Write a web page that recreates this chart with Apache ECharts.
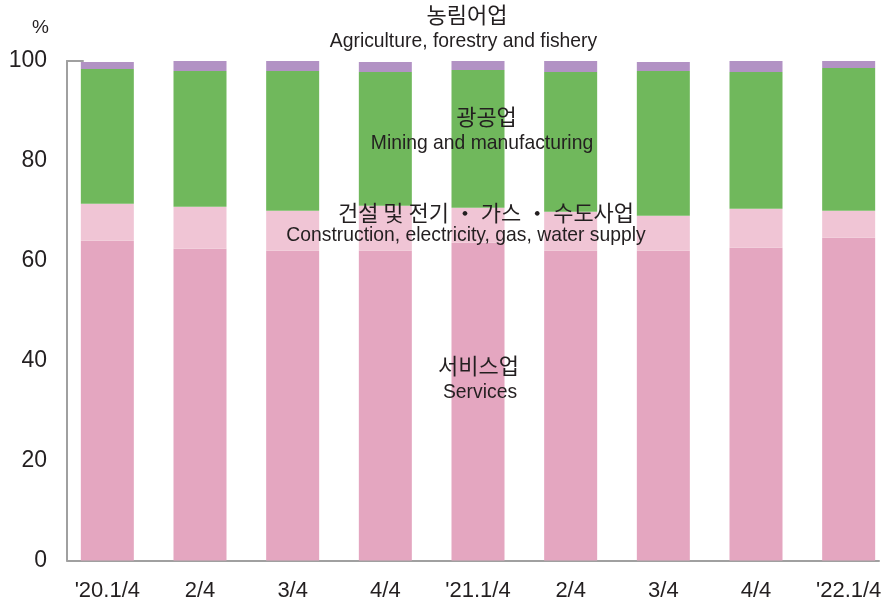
<!DOCTYPE html>
<html>
<head>
<meta charset="utf-8">
<script src="https://cdn.jsdelivr.net/npm/echarts@6/dist/echarts.min.js"></script>
<style>
html,body{margin:0;padding:0;background:#fff;}
#chart{width:895px;height:608px;}
</style>
</head>
<body>
<div id="chart"></div>
<script>
const categories = ["'20.1/4", "2/4", "3/4", "4/4", "'21.1/4", "2/4", "3/4", "4/4", "'22.1/4"];
const services = [64.0, 62.4, 62.0, 62.0, 63.6, 62.0, 62.0, 62.6, 64.6];
const construction = [7.4, 8.4, 8.0, 9.0, 7.0, 7.8, 7.0, 7.8, 5.4];
const mining = [27.0, 27.2, 28.0, 26.8, 27.6, 28.0, 29.0, 27.4, 28.6];
const agriculture = [1.4, 2.0, 2.0, 2.0, 1.8, 2.2, 1.8, 2.2, 1.4];
const yTicks = [0, 20, 40, 60, 80, 100];

const seriesNames = ['서비스업', '건설 및 전기・가스・수도사업', '광공업', '농림어업'];
const seriesData = [services, construction, mining, agriculture];
const colors = ['#E4A6C0', '#F0C5D5', '#70B85C', '#B292C4'];

const latin = "'Liberation Sans', Arial, sans-serif";
const kor = "'Noto Sans CJK KR', sans-serif";
const txt = '#231F20';

const chart = echarts.init(document.getElementById('chart'));

function label(x, y, text, font, size, sx) {
  return {
    type: 'text', x: x, y: y, z: 100, scaleX: sx || 1,
    style: { text: text, fill: txt, fontFamily: font, fontSize: size, align: 'center', verticalAlign: 'middle' }
  };
}

chart.setOption({
  animation: false,
  backgroundColor: '#fff',
  grid: [
    { left: 61, width: 837, top: 61, bottom: 47.5 },
    { left: 67, right: 16, top: 61, bottom: 47.5 },
    { left: 67, width: 16, top: 61, bottom: 47.5 }
  ],
  xAxis: [
    {
      type: 'category', gridIndex: 0, data: categories,
      axisLine: { show: false }, axisTick: { show: false },
      axisLabel: { color: txt, fontFamily: latin, fontSize: 22, margin: 19 }
    },
    {
      type: 'value', gridIndex: 1, min: 0, max: 1,
      axisLine: { show: true, onZero: false, lineStyle: { color: '#A0A0A0', width: 2 } },
      axisTick: { show: false }, axisLabel: { show: false }, splitLine: { show: false }
    },
    {
      type: 'value', gridIndex: 2, position: 'top', min: 0, max: 1,
      axisLine: { show: true, onZero: false, lineStyle: { color: '#A0A0A0', width: 2 } },
      axisTick: { show: false }, axisLabel: { show: false }, splitLine: { show: false }
    }
  ],
  yAxis: [
    {
      type: 'value', gridIndex: 0, min: 0, max: 100, interval: 20,
      axisLine: { show: false }, axisTick: { show: false }, axisLabel: { show: false }, splitLine: { show: false }
    },
    {
      type: 'value', gridIndex: 1, min: yTicks[0], max: yTicks[yTicks.length - 1], interval: 20,
      name: '%', nameLocation: 'end', nameGap: 24,
      nameTextStyle: { color: txt, fontFamily: latin, fontSize: 19, align: 'right', padding: [0, 18, 0, 0] },
      axisLine: { show: true, lineStyle: { color: '#A0A0A0', width: 2 } },
      axisTick: { show: false },
      axisLabel: { color: txt, fontFamily: latin, fontSize: 23, margin: 20 },
      splitLine: { show: false }
    },
    {
      type: 'value', gridIndex: 2, min: 0, max: 100,
      axisLine: { show: false }, axisTick: { show: false }, axisLabel: { show: false }, splitLine: { show: false }
    }
  ],
  series: seriesData.map((d, i) => ({
    name: seriesNames[i], type: 'bar', stack: 'total', xAxisIndex: 0, yAxisIndex: 0,
    barWidth: 53, data: d, itemStyle: { color: colors[i] }
  })),
  graphic: [
    label(467, 15, '농림어업', kor, 22),
    label(463.5, 41, 'Agriculture, forestry and fishery', latin, 21, 0.92),
    label(486.5, 117, '광공업', kor, 22),
    label(482, 143, 'Mining and manufacturing', latin, 21, 0.92),
    label(486, 213, '건설 및 전기 ・ 가스 ・ 수도사업', kor, 22),
    label(466, 235, 'Construction, electricity, gas, water supply', latin, 21, 0.92),
    label(478.5, 366, '서비스업', kor, 22),
    label(480, 392, 'Services', latin, 21, 0.92)
  ]
});
</script>
</body>
</html>
